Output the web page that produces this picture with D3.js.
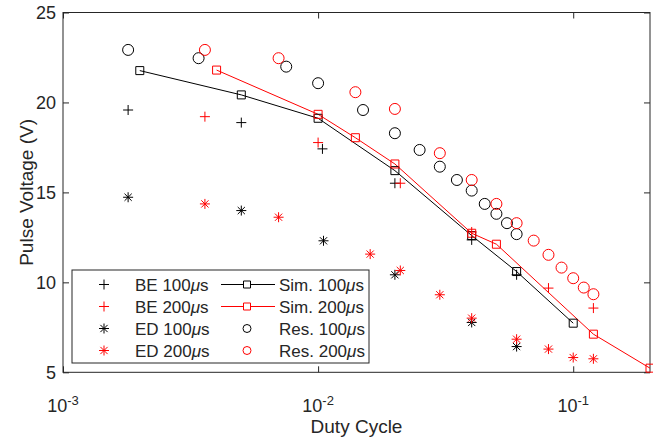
<html>
<script src="https://d3js.org/d3.v7.min.js"></script>
<style>
  body { margin: 0; background: #fff; }
  text { font-family: "Liberation Sans", Arial, sans-serif; fill: #262626; }
</style>
<body>
<svg class="chart" width="653" height="439"></svg>
<script>
  // duty cycle / pulse voltage values
  const be100 = [[0.0018,19.58],[0.005,18.88],[0.0104,17.42],[0.02,15.51],[0.04,12.36],[0.06,10.42]];
  const be200 = [[0.0036,19.21],[0.01,17.77],[0.021,15.51],[0.04,12.8],[0.08,9.68],[0.12,8.57]];
  const ed100 = [[0.0018,14.73],[0.005,13.99],[0.0105,12.31],[0.02,10.42],[0.04,7.77],[0.06,6.43]];
  const ed200 = [[0.0036,14.36],[0.007,13.62],[0.016,11.57],[0.021,10.66],[0.03,9.31],[0.04,8.01],[0.06,6.84],[0.08,6.29],[0.1,5.82],[0.12,5.75]];
  const sim100 = [[0.002,21.77],[0.005,20.42],[0.01,19.12],[0.02,16.21],[0.04,12.6],[0.06,10.6],[0.1,7.73]];
  const sim200 = [[0.004,21.8],[0.01,19.34],[0.014,18.04],[0.02,16.58],[0.04,12.73],[0.05,12.12],[0.12,7.12],[0.2,5.23]];
  const res100 = [[0.0018,22.92],[0.0034,22.46],[0.0075,21.99],[0.01,21.07],[0.015,19.58],[0.02,18.29],[0.025,17.36],[0.03,16.43],[0.035,15.69],[0.04,15.1],[0.045,14.36],[0.05,13.81],[0.055,13.29],[0.06,12.68]];
  const res200 = [[0.0036,22.92],[0.007,22.46],[0.014,20.57],[0.02,19.64],[0.03,17.18],[0.04,15.69],[0.05,14.36],[0.06,13.29],[0.07,12.32],[0.08,11.53],[0.09,10.82],[0.1,10.23],[0.11,9.71],[0.12,9.34]];

  const xMajor = [0.001, 0.01, 0.1];
  const xExp = ['-3', '-2', '-1'];
  const yTicks = [5, 10, 15, 20, 25];
  const legendNames = ['BE 100', 'BE 200', 'ED 100', 'ED 200', 'Sim. 100', 'Sim. 200', 'Res. 100', 'Res. 200'];

  const black = '#000', red = '#ff0000';
  const L = 63, R = 650, T = 12.5, B = 372.3;

  var x = d3.scaleLog().domain([0.001, 0.2]).range([L, R]);
  var y = d3.scaleLinear().domain([5, 25]).range([B, T]);
  var svg = d3.select('svg');

  var xMinor = [];
  [0.001, 0.01, 0.1].forEach(function(d) {
    for (var k = 2; k <= 9; k++) { if (d * k <= 0.2) xMinor.push(d * k); }
  });

  // bottom and top axes (ticks point inward)
  function xAxes(gen, ty, sizeMaj, sizeMin) {
    var g = svg.append('g').attr('transform', 'translate(0,' + ty + ')');
    g.call(gen(x).tickValues(xMinor).tickSize(sizeMin).tickFormat(''));
    g.call(gen(x).tickValues(xMajor).tickSize(sizeMaj).tickFormat(''));
    g.selectAll('.domain').remove();
    g.selectAll('line').attr('stroke', '#262626');
    return g;
  }
  xAxes(d3.axisBottom, B, -6, -3);
  xAxes(d3.axisTop, T, -6, -3);

  var xl = svg.append('g');
  xMajor.forEach(function(d, i) {
    var t = xl.append('text').attr('x', x(d)).attr('y', 412).attr('text-anchor', 'middle')
      .style('font-size', '18px');
    t.append('tspan').text('10');
    t.append('tspan').attr('dy', -7).style('font-size', '13px').text(xExp[i]);
  });

  var yl = svg.append('g').attr('transform', 'translate(' + L + ',0)')
    .call(d3.axisLeft(y).tickValues(yTicks).tickSize(-6).tickPadding(7));
  yl.selectAll('.domain').remove();
  yl.selectAll('line').attr('stroke', '#262626');
  yl.selectAll('text').style('font-size', '18px').attr('fill', '#262626');
  var yr = svg.append('g').attr('transform', 'translate(' + R + ',0)')
    .call(d3.axisRight(y).tickValues(yTicks).tickSize(-6).tickFormat(''));
  yr.selectAll('.domain').remove();
  yr.selectAll('line').attr('stroke', '#262626');

  svg.append('rect').attr('x', L).attr('y', T).attr('width', R - L).attr('height', B - T)
    .attr('fill', 'none').attr('stroke', '#262626').attr('stroke-width', 1);

  svg.append('text').attr('x', (L + R) / 2).attr('y', 433).attr('text-anchor', 'middle')
    .style('font-size', '19px').text('Duty Cycle');
  svg.append('text').attr('transform', 'translate(33,' + (T + B) / 2 + ') rotate(-90)')
    .attr('text-anchor', 'middle').style('font-size', '19px').text('Pulse Voltage (V)');

  // marker shapes
  function markPath(kind) {
    if (kind == 'plus') return 'M-5,0H5M0,-5V5';
    if (kind == 'star') return 'M-5,0H5M0,-5V5M-3.6,-3.6L3.6,3.6M-3.6,3.6L3.6,-3.6';
    if (kind == 'square') return 'M-4,-4H4V4H-4Z';
    return d3.symbol(d3.symbolCircle, 95)();
  }

  svg.append('clipPath').attr('id', 'clip').append('rect')
    .attr('x', L).attr('y', T).attr('width', R - L).attr('height', B - T);

  var line = d3.line().x(function(d) { return x(d[0]); }).y(function(d) { return y(d[1]); });
  svg.append('path').datum(sim100).attr('d', line).attr('fill', 'none').attr('stroke', black)
    .attr('stroke-width', 1).attr('clip-path', 'url(#clip)');
  svg.append('path').datum(sim200).attr('d', line).attr('fill', 'none').attr('stroke', red)
    .attr('stroke-width', 1).attr('clip-path', 'url(#clip)');

  function points(data, kind, color) {
    svg.append('g').selectAll('path').data(data).enter().append('path')
      .attr('transform', function(d) { return 'translate(' + x(d[0]) + ',' + y(d[1]) + ')'; })
      .attr('d', markPath(kind))
      .attr('fill', 'none').attr('stroke', color).attr('stroke-width', 1);
  }
  points(res100, 'circle', black);
  points(res200, 'circle', red);
  points(sim100, 'square', black);
  points(sim200, 'square', red);
  points(be100, 'plus', black);
  points(be200, 'plus', red);
  points(ed100, 'star', black);
  points(ed200, 'star', red);

  // legend, two columns
  var lg = svg.append('g');
  lg.append('rect').attr('x', 72).attr('y', 270).attr('width', 297).attr('height', 93)
    .attr('fill', '#fff').attr('stroke', '#262626').attr('stroke-width', 1);
  var kinds = ['plus', 'plus', 'star', 'star', 'square', 'square', 'circle', 'circle'];
  var cols = [black, red, black, red, black, red, black, red];
  legendNames.forEach(function(name, i) {
    var col = Math.floor(i / 4), row = i % 4;
    var cy = 284.5 + row * 22;
    var mx = col == 0 ? 104 : 247;
    var tx = col == 0 ? 135 : 279;
    if (kinds[i] == 'square') {
      lg.append('line').attr('x1', 221).attr('x2', 275).attr('y1', cy).attr('y2', cy)
        .attr('stroke', cols[i]).attr('stroke-width', 1);
    }
    var sym = kinds[i] == 'circle' ? d3.symbol(d3.symbolCircle, 50)() :
      kinds[i] == 'square' ? 'M-3.5,-3.5H3.5V3.5H-3.5Z' : markPath(kinds[i]);
    lg.append('path').attr('transform', 'translate(' + mx + ',' + cy + ')').attr('d', sym)
      .attr('fill', kinds[i] == 'square' ? '#fff' : 'none').attr('stroke', cols[i]).attr('stroke-width', 1);
    var t = lg.append('text').attr('x', tx).attr('y', cy + 6).style('font-size', '17px').attr('fill', '#000');
    t.append('tspan').text(name);
    t.append('tspan').style('font-style', 'italic').text('\u03bc');
    t.append('tspan').text('s');
  });
</script>
</body>
</html>
